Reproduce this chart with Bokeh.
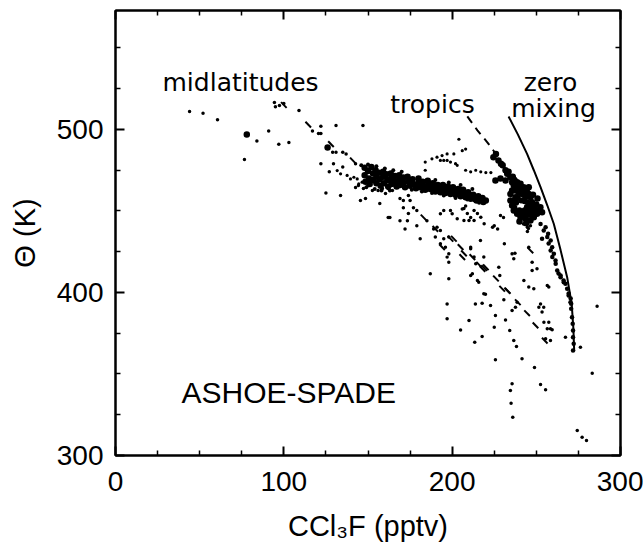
from bokeh.plotting import figure
from bokeh.models import Range1d, FixedTicker, LinearAxis
from bokeh.core.properties import value
from bokeh.embed import file_html
from bokeh.resources import INLINE

# ---- tick values ----
x_major = [0, 100, 200, 300]
x_minor = [25, 50, 75, 125, 150, 175, 225, 250, 275]
y_major = [300, 400, 500]
y_minor = [325, 350, 375, 425, 450, 475, 525, 550]

# ---- scattered measurements (CCl3F pptv, theta K) ----
mid_x = [44, 52, 60.6, 84, 91, 97, 103, 76.6, 94.4, 97.4, 95, 100, 109, 117, 122, 122,
         127, 125, 122, 131, 120.6, 129, 131, 135, 137, 129.5, 135, 133.7, 145.5, 148.5, 157, 142.6,
         142.6, 144.3, 147.3, 150, 152.6, 156, 158.6, 160.4, 162, 164.5, 166, 169, 171, 174, 175, 177,
         179, 171, 174, 173.4, 169, 163, 179, 185, 189, 191, 181, 190, 195, 198, 199, 207,
         208, 209, 211, 213, 215, 211, 213, 147]
mid_y = [511, 510, 506, 493, 499, 491, 492, 481.6, 516.5, 514.7, 514, 516, 511.6, 499, 497.5, 479,
         474, 461, 502, 502.5, 497.5, 486, 486, 486, 485, 479, 477, 459.5, 456.4, 457.7, 454.6, 479,
         464.4, 465.6, 463.8, 465.6, 462.6, 462.6, 463.8, 460.7, 463.8, 462.6, 465.6, 457.7, 456.4, 459.5, 456.4, 452,
         450.3, 452, 448.5, 444, 444, 446, 441, 444, 439, 440, 433, 434, 433, 434, 450.3, 451.5,
         453, 448.5, 446, 450.3, 448.5, 457.7, 456.4, 502.5]

dot_x = [184, 188, 191, 194, 197, 201, 206, 208, 204, 197, 199, 202, 203, 208, 211, 214,
         217, 220, 223, 184, 193, 195, 131.7, 133.7, 137.6, 139.6, 141.6, 143.6, 144.5, 146.5]
dot_y = [480, 482, 483, 484, 485, 485, 487, 488, 494, 481, 480, 479, 478, 475, 474, 475,
         474, 473.6, 473.6, 475, 481, 481, 474.8, 472.8, 471.8, 469.7, 470.7, 469.7, 466.6, 467.7]

low_a_x = [198, 211, 214, 218.8, 211, 215.8, 187, 198, 197, 197,
           205, 213.8, 210, 213.4, 219.8, 222.8, 225.7, 225, 217.8, 231.7,
           230.7, 235.6, 234.2, 236.6, 238.2, 225.7, 241.5, 248.9, 235.6, 234.6,
           235, 236, 252.5, 255.5, 274.3, 277.2, 279.8, 283.2, 286.1, 276.2,
           267.3, 245.5, 248.5, 257.4, 242.6, 247.5, 250.4, 247.5, 237.3, 236.6,
           231, 227.7]
low_a_y = [423.7, 427.8, 417.6, 421.7, 410.4, 406.3, 411.5, 408.4, 393, 383.9,
           377, 393, 382.8, 369.5, 399, 392, 385.9, 378.7, 373, 383.2,
           395.5, 389, 376.7, 370.5, 366.9, 358.7, 359.3, 354, 344, 339.9,
           332.1, 323.5, 343.6, 340.3, 315.3, 311.2, 309.2, 350.5, 391.6, 366.4,
           372.6, 403.3, 402.3, 403.3, 407.4, 413.5, 414.5, 418.6, 424.1, 420.7,
           429.9, 415.5]

low_b_x = [228.3, 251.5, 253.4, 254.5, 257.4, 256.5, 258.4, 259.4, 255.5, 258.4,
           206, 210, 213, 217, 219, 224, 225, 227, 193, 193,
           196, 211, 213, 216.8, 235.6, 245.5, 197, 198, 212, 215,
           218.8, 217.8, 238.6, 237.6, 256.5, 252.5, 254.4, 193, 195, 228.7,
           230.5, 162, 172, 200, 203, 207, 240.6, 242.4, 244.7, 245.3,
           246.5, 244.7]
low_b_y = [410.4, 391, 388, 381.8, 381.8, 377.7, 377.7, 377.1, 371.6, 370.5,
           451.3, 444.2, 444.2, 446.2, 442.1, 440, 441, 439, 438, 429.9,
           427.8, 426.8, 421.7, 431.9, 423.7, 427.8, 421.7, 418.6, 411.5, 407.4,
           399.2, 393.4, 394, 391, 404.3, 393, 391, 448.3, 450.3, 447.2,
           446, 446, 439, 448.3, 445.2, 444.2, 443, 442, 440, 439.3,
           441, 437.4]

# dense midlatitude band
band_x = [148, 148, 148.5, 150, 150.5, 151, 152, 153, 153, 154.5,
          155, 155, 156.5, 157, 157.5, 159, 159, 159.5, 161, 161.5,
          162, 163.5, 164, 164, 166, 166, 167, 168.5, 168.5, 169,
          171, 171, 172, 173.5, 174, 175, 176.5, 177, 178.5, 180,
          180, 181, 182.5, 183, 184, 185.5, 186, 187, 188.5, 189,
          190, 191.5, 192, 193, 194.5, 195, 196, 197.5, 198, 199,
          200.5, 201, 202, 203.5, 204, 205, 206.5, 207, 208, 209.5,
          210, 211, 212.5, 213, 214.5, 215.5, 216.5, 218, 218.5, 220,
          78, 126]
band_y = [476.5, 472, 468, 474.5, 470, 466.5, 477, 473, 469, 475,
          471, 467, 473.5, 469.5, 465.5, 474, 471, 467, 472.5, 469,
          465, 473, 470, 466.5, 471.5, 468, 465, 472, 469, 466,
          470.5, 467.5, 464.5, 471, 468, 465.5, 469.5, 466.5, 464, 470,
          467, 464.5, 468, 465.5, 463, 468.5, 466, 463.5, 467, 464.5,
          462, 466, 463.5, 461.5, 466, 463, 461, 465, 462.5, 460.5,
          464.5, 462, 460, 463.5, 461, 459, 463, 460.5, 458.5, 461.5,
          459, 457.5, 460, 458, 456.5, 459, 457, 458, 455.5, 456.5,
          497, 489]
fringe_x = [146, 150, 155, 160, 165, 170, 149, 154, 158, 163, 176, 182,
            188, 195, 202, 209, 216, 190, 198, 205, 212]
fringe_y = [478, 478.5, 477.5, 476, 475, 474, 464.5, 463.5, 462.5, 462.5, 463, 462,
            461, 459.5, 458, 457, 455, 469, 467.5, 466, 463.5]

# dense tropical cluster
clus_x = [224.5, 227.5, 230, 231.7, 225.7, 228.7, 231.7, 232.7, 234.6, 235.6,
          236.6, 238.6, 240.6, 242.5, 244.5, 245.5, 246.5, 247.5, 248.5, 249.5,
          250.4, 248.5, 246.5, 243.5, 240.6, 238.6, 236.6, 235.6, 234.6, 234.6,
          235.6, 237.6, 241.5, 243.5, 244.5, 242.5, 245.5, 247, 239.6, 241.5,
          245.5, 237.6, 250.7, 251.3, 253.4, 252.4, 233.5, 236, 229, 226,
          237, 248, 250, 246, 236.5, 240, 244, 247.5]
clus_y = [483, 481, 478, 475, 468.7, 470, 468.7, 472.8, 470.7, 467.7,
          465.6, 467.7, 466.7, 464.6, 463.6, 460.5, 458.5, 455.4, 452.3, 450.3,
          448.3, 446.2, 444.2, 445.2, 446.2, 448.3, 450.3, 453.4, 456.4, 460.5,
          462.6, 458.5, 460.5, 458.5, 452.3, 448.3, 448.3, 449.3, 464.6, 462.6,
          464.6, 462.6, 457.7, 450.3, 449.3, 452.3, 474, 471, 479, 485,
          469, 460, 454, 452, 455.5, 443.5, 442.5, 447]
core_x = [239, 241, 243, 245, 238, 237, 240, 243, 246, 239.5, 243, 241, 244]
core_y = [458, 456.5, 456, 455, 455, 452, 450.5, 450.5, 451, 461, 461.5, 449, 447]

edge_x = [252.5, 254.4, 256.5, 257.3, 258.5, 258.5, 259.4, 259.5, 260.4, 261.4,
          261.5, 262.4, 263.2, 264.4, 264.4, 266.3, 266.2, 267.3, 268.3, 269.2,
          269.2, 270.3, 270.4, 270.7, 270.7, 271.2, 271.6, 271.8, 271.8, 272.2,
          271.8, 253.4, 255.5, 257]
edge_y = [442, 438, 434, 430, 431.9, 425.8, 427.8, 421.7, 423.7, 419.6,
          417.6, 413.5, 411.7, 410.4, 409.4, 406.3, 407.4, 405.3, 402.3, 399.4,
          398.2, 394, 396.3, 393.1, 390, 384.8, 380.8, 376.7, 372.6, 368.5,
          364.4, 432.9, 440, 436]

dash_x = [100, 114.5, 128, 141, 183, 190, 199, 207, 219, 226,
          233, 239, 244.5, 249.5, 255, 194, 206, 212, 218, 201,
          216, 220, 229.7, 232.7, 246.5, 205]
dash_y = [515, 503, 491, 481, 446, 439, 433, 424, 415, 408.6,
          401, 394, 387.3, 379.8, 370.5, 427.8, 421.7, 421.7, 414.5, 433,
          417, 415.5, 402.3, 401.2, 425.8, 427.8]

# reference curves
zero_x = [233.5, 239, 244.5, 248.5, 252.5, 256.5, 260.4, 264.4, 268.3, 271, 272, 272.5]
zero_y = [508, 497, 485, 475, 464.6, 453.5, 442, 426, 409.4, 393, 378, 364]
trop_x = [209, 215, 221, 226, 231]
trop_y = [508, 499.5, 492, 485, 477]

LAB = "Liberation Sans"

p = figure(width=643, height=546, x_range=Range1d(0, 300), y_range=Range1d(300, 573),
           output_backend="svg", toolbar_location=None,
           min_border_left=115, min_border_right=23, min_border_top=10, min_border_bottom=91)
p.grid.visible = False
p.outline_line_color = "black"
p.outline_line_width = 2
p.background_fill_color = "white"
p.border_fill_color = "white"

def style_axis(ax, ticks, labels=True):
    ax.axis_line_width = 2
    ax.axis_line_color = "black"
    ax.major_tick_in = 9
    ax.major_tick_out = 0
    ax.minor_tick_in = 5
    ax.minor_tick_out = 0
    ax.major_tick_line_width = 2
    ax.minor_tick_line_width = 1.5
    ax.major_tick_line_color = "black"
    ax.minor_tick_line_color = "black"
    if labels:
        ax.major_label_text_font = LAB
        ax.major_label_text_font_size = "28px"
        ax.major_label_text_color = "black"
        ax.axis_label_text_font = LAB
        ax.axis_label_text_font_size = "29px"
        ax.axis_label_text_font_style = "normal"
        ax.axis_label_text_color = "black"
    else:
        ax.major_label_overrides = {t: "" for t in ticks}
        ax.major_label_standoff = 0

p.xaxis.ticker = FixedTicker(ticks=x_major, minor_ticks=x_minor)
p.yaxis.ticker = FixedTicker(ticks=y_major, minor_ticks=y_minor)
style_axis(p.xaxis[0], x_major)
style_axis(p.yaxis[0], y_major)
p.xaxis.axis_label = "CCl\u2083F (pptv)"
p.yaxis.axis_label = "\u0398 (K)"
p.xaxis.major_label_standoff = 16
p.yaxis.major_label_standoff = 12
p.xaxis.axis_label_standoff = 16
p.yaxis.axis_label_standoff = 13

ax_top = LinearAxis(ticker=FixedTicker(ticks=x_major, minor_ticks=x_minor))
ax_right = LinearAxis(ticker=FixedTicker(ticks=y_major, minor_ticks=y_minor))
style_axis(ax_top, x_major, labels=False)
style_axis(ax_right, y_major, labels=False)
p.add_layout(ax_top, "above")
p.add_layout(ax_right, "right")

# curves
p.line(zero_x, zero_y, line_color="black", line_width=2)
p.line(trop_x, trop_y, line_color="black", line_width=2, line_dash="8 6")

# points
for xs, ys, sz in [(mid_x, mid_y, 3.5), (dot_x, dot_y, 3.2), (low_a_x, low_a_y, 3.5),
                   (low_b_x, low_b_y, 3.5), (band_x, band_y, 6.5), (fringe_x, fringe_y, 4),
                   (clus_x, clus_y, 6.5), (core_x, core_y, 6), (edge_x, edge_y, 4.5)]:
    p.scatter(xs, ys, size=sz, marker="circle", fill_color="black", line_color=None)
p.scatter(dash_x, dash_y, size=8, marker="dash", angle=-0.8, line_color="black", line_width=2)

# annotations
ANN = "DejaVu Sans"
p.text(x=[74.3], y=[528.8], text=["midlatitudes"], text_font=value(ANN), text_font_size=value("25px"),
       text_align="center", text_baseline="alphabetic", text_color="black")
p.text(x=[188.3], y=[515.3], text=["tropics"], text_font=value(ANN), text_font_size=value("25px"),
       text_align="center", text_baseline="alphabetic", text_color="black")
p.text(x=[258.4], y=[528.8], text=["zero"], text_font=value(ANN), text_font_size=value("25px"),
       text_align="center", text_baseline="alphabetic", text_color="black")
p.text(x=[260.2], y=[512.9], text=["mixing"], text_font=value(ANN), text_font_size=value("25px"),
       text_align="center", text_baseline="alphabetic", text_color="black")
p.text(x=[39.2], y=[338.7], text=["ASHOE-SPADE"], text_font=value(LAB), text_font_size=value("30px"),
       text_align="left", text_baseline="alphabetic", text_color="black")

open("out.html", "w").write(file_html(p, INLINE))
